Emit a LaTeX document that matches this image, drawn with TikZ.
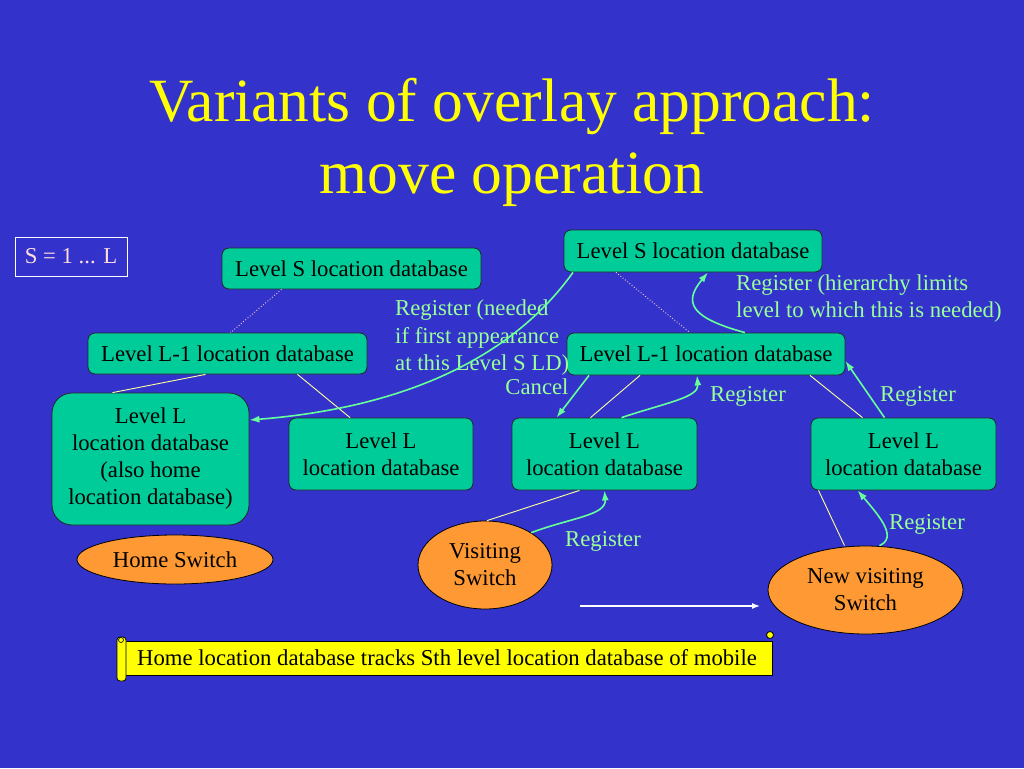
\documentclass[tikz,border=0pt]{standalone}
\usepackage{fontspec}
\setmainfont{Liberation Serif}
\usetikzlibrary{shapes.geometric,arrows.meta}
\definecolor{bg}{HTML}{3333CC}
\definecolor{boxgreen}{HTML}{00CC99}
\definecolor{orng}{HTML}{FF9933}
\definecolor{lblgreen}{HTML}{99FF99}
\definecolor{arrowgreen}{HTML}{66FF99}
\definecolor{connyellow}{HTML}{FFFF99}
\definecolor{connpink}{HTML}{FFCCCC}
\definecolor{stext}{HTML}{FFDDDD}
\definecolor{titleyellow}{HTML}{FFFF00}
\definecolor{banyellow}{HTML}{FFFF00}
\begin{document}
\begin{tikzpicture}[x=1pt,y=-1pt,
  every node/.style={font=\fontsize{22.7}{27}\selectfont},
  dbox/.style={draw=black!85, line width=0.8pt, fill=boxgreen, rounded corners=7pt, inner sep=0pt, align=center, text=black},
  sw/.style={ellipse, draw=black, line width=0.8pt, fill=orng, inner sep=0pt, align=center, text=black},
  conn/.style={draw=connyellow, line width=0.9pt},
  dconn/.style={draw=connpink, line width=0.9pt, dotted},
  garrow/.style={draw=arrowgreen, line width=1.6pt, -{Latex[length=10pt,width=7pt]}},
  lbl/.style={text=lblgreen, inner sep=0pt, align=left, font=\fontsize{22.7}{27.5}\selectfont}]
\useasboundingbox (0,0) rectangle (1024,768);
\fill[bg] (0,0) rectangle (1024,768);

% title
\node[text=titleyellow, font=\fontsize{61.5}{72}\selectfont, anchor=base, inner sep=0pt] (t1) at (512,121) {Variants of overlay approach:};
\node[text=titleyellow, font=\fontsize{61.5}{72}\selectfont, anchor=base, inner sep=0pt] (t2) at (512,193) {move operation};

% S box
\node[draw=white, line width=0.8pt, text=stext, minimum width=112pt, minimum height=39pt, inner sep=0pt] (S) at (71,256.5) {S = 1 ... L};

% database boxes
\node[dbox, minimum width=259pt, minimum height=41pt] (LSl) at (351.5,268.5) {Level S location database};
\node[dbox, minimum width=279pt, minimum height=41pt] (L1l) at (227.5,353.5) {Level L-1 location database};
\node[dbox, rounded corners=20pt, minimum width=197pt, minimum height=132pt] (Lh) at (150.5,459) {Level L\\location database\\(also home\\location database)};
\node[dbox, minimum width=184pt, minimum height=72pt] (Lml) at (381,454) {Level L\\location database};
\node[dbox, minimum width=185pt, minimum height=72pt] (Lm) at (604.5,454) {Level L\\location database};
\node[dbox, minimum width=185pt, minimum height=72pt] (Lr) at (903.5,454) {Level L\\location database};
\node[dbox, minimum width=258pt, minimum height=42pt] (LSr) at (693,251) {Level S location database};
\node[dbox, minimum width=278pt, minimum height=42pt] (L1r) at (706,354) {Level L-1 location database};

% switches
\node[sw, minimum width=196pt, minimum height=49pt] (HS) at (175,559.5) {Home Switch};
\node[sw, minimum width=134pt, minimum height=88pt] (VS) at (485,565) {Visiting\\ Switch};
\node[sw, minimum width=195pt, minimum height=88pt] (NV) at (865.5,590) {New visiting\\Switch};

% banner
\node[draw=black, line width=0.8pt, fill=banyellow, minimum width=650pt, minimum height=34pt, inner sep=0pt, text=black] (ban) at (447,658) {Home location database tracks Sth level location database of mobile};
\draw[fill=banyellow, line width=0.8pt, rounded corners=3pt] (117,637) rectangle (126,681);
\draw[fill=banyellow, line width=0.6pt] (121,640) circle[radius=2.5pt];
\draw[fill=banyellow, line width=0.8pt] (770,635) circle[radius=3.5pt];

% white arrow
\coordinate (wa) at (580,606);
\coordinate (wb) at (760,606);
\draw[white, line width=1.2pt, -{Latex[length=8pt,width=6pt]}] (wa) -- (wb);

% thin connectors
\draw[dconn] ([xshift=-70pt]LSl.south) -- ([xshift=3pt]L1l.north);
\draw[conn] ([xshift=-22pt]L1l.south) -- ([xshift=-38pt]Lh.north);
\draw[conn] ([xshift=70pt]L1l.south) -- ([xshift=-31pt]Lml.north);
\draw[dconn] ([xshift=-77pt]LSr.south) -- ([xshift=-16pt]L1r.north);
\draw[conn] ([xshift=-66pt]L1r.south) -- ([xshift=-14pt]Lm.north);
\draw[conn] ([xshift=104pt]L1r.south) -- ([xshift=-41pt]Lr.north);
\draw[conn] ([xshift=-25pt]Lm.south) -- ([xshift=2pt]VS.north);
\draw[conn] ([xshift=-85pt]Lr.south) -- ([xshift=-21pt]NV.north);

% labels
\node[lbl, anchor=west] (r1) at (395,338) {Register (needed\\if first appearance\\at this Level S LD)};
\node[lbl] (cancel) at (537,387) {Cancel};
\node[lbl, anchor=west] (r2) at (736,298.5) {Register (hierarchy limits\\level to which this is needed)};
\node[lbl] (r3) at (748,396) {Register};
\node[lbl] (r4) at (918,396) {Register};
\node[lbl] (r5) at (603,541) {Register};
\node[lbl] (r6) at (927,524) {Register};

% green arrows
\draw[garrow] ([xshift=-120pt]LSr.south) .. controls +(-63,88) and +(151,-12) .. ([yshift=39pt]Lh.east);
\draw[garrow] ([xshift=-117pt]L1r.south) -- ([xshift=-48pt]Lm.north);
\draw[garrow] ([xshift=17pt]Lm.north) .. controls +(45,-15) and +(2,22) .. ([xshift=-9pt]L1r.south);
\draw[garrow] ([xshift=39pt]L1r.north) .. controls +(-55,-15) and +(-25,30) .. ([xshift=15pt]LSr.south);
\draw[garrow] ([xshift=-19pt]Lr.north) -- ([yshift=-7pt]L1r.east);
\draw[garrow] (VS.35) .. controls +(40,-15) and +(2,25) .. (Lm.south);
\draw[garrow] ([xshift=14pt]NV.north) .. controls +(18,-8) and +(23,27) .. ([xshift=-46pt]Lr.south);
\end{tikzpicture}
\end{document}
